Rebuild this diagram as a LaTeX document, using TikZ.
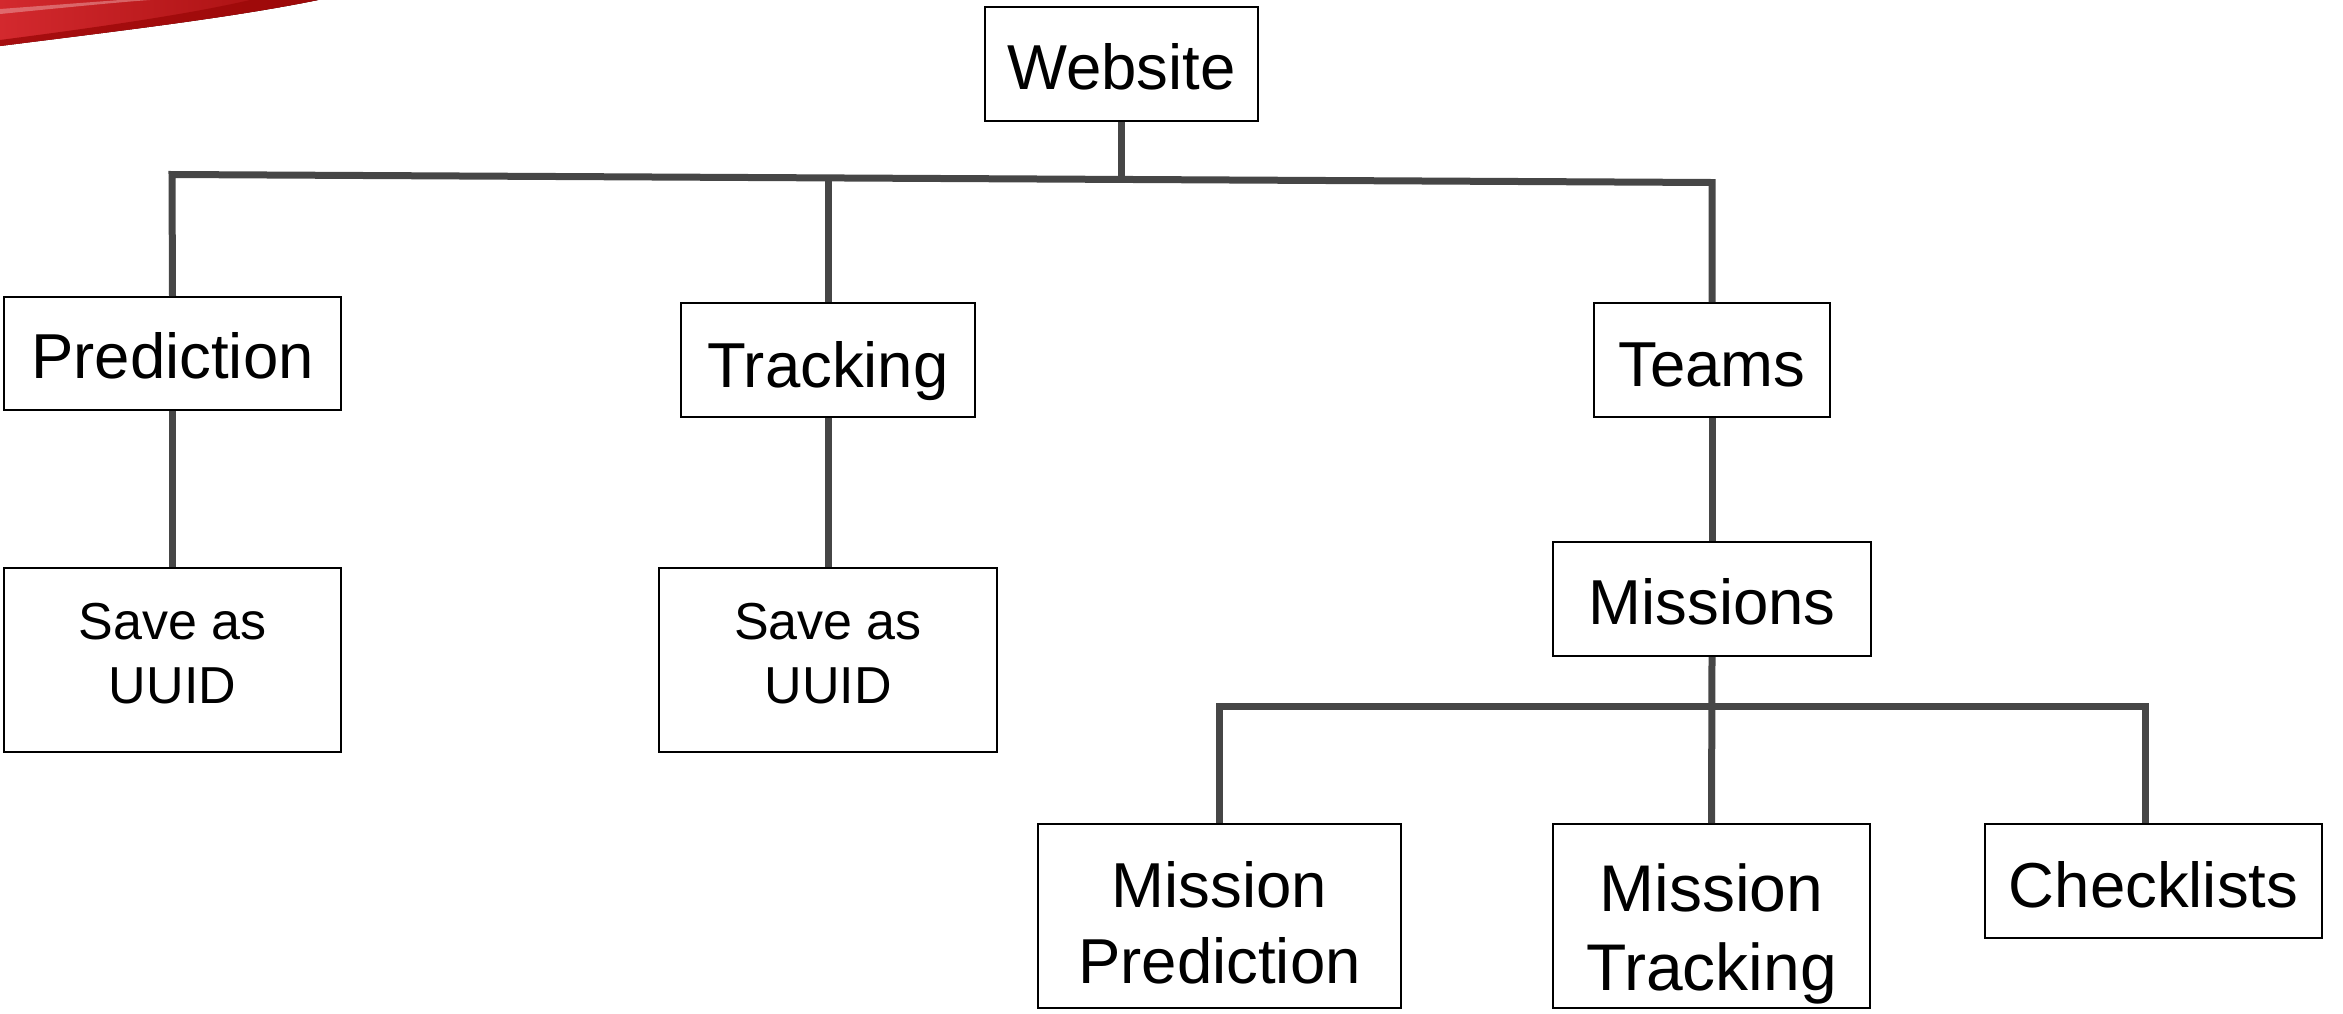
\documentclass[tikz,border=0pt]{standalone}
\usepackage{fontspec}
\setmainfont{Liberation Sans}
\definecolor{linkgray}{HTML}{464646}
\definecolor{swooshred}{HTML}{D3292E}
\definecolor{swooshdark}{HTML}{9C0808}
% two centred lines whose baseline is the first line's baseline
\newcommand\stacklines[3]{\vtop{\baselineskip=#3\relax\lineskiplimit=-10pt
  \halign{\hfil##\hfil\cr #1\cr #2\cr}}}
\begin{document}
\begin{tikzpicture}[
  x=0.5pt, y=-0.5pt,
  box/.style={draw=black, line width=1pt, inner sep=0pt, fill=white,
              font=\fontsize{31.75}{38}\selectfont, text height=25.5pt, text depth=0pt},
  small/.style={font=\fontsize{26}{32}\selectfont},
  big/.style={font=\fontsize{33}{39}\selectfont},
  size/.style 2 args={minimum width=#1*0.5pt, minimum height=#2*0.5pt},
  link/.style={draw=linkgray, line width=3.5pt},
]
\useasboundingbox (0,0) rectangle (2343,1013);

% red swoosh in the top left corner
\fill[left color=swooshred, right color=swooshdark!85!swooshred]
  (0,0) -- (318,0) .. controls (230,18) and (110,32) .. (0,46) -- cycle;
\fill[swooshdark, opacity=0.8]
  (318,0) .. controls (230,18) and (110,32) .. (0,46)
  -- (0,40) .. controls (100,27) and (190,14) .. (250,0) -- cycle;
\fill[white!60!swooshred, opacity=0.5]
  (0,14) .. controls (60,8) and (120,2) .. (150,0) -- (120,0)
  .. controls (80,3) and (40,6) .. (0,9) -- cycle;

% boxes
\node[box, size={273}{114}, text height=25pt] (web) at (1121.5,64) {Website};
\node[box, size={337}{113}, text height=24.5pt] (pred) at (172.5,353.5) {Prediction};
\node[box, small, size={337}{184}, text height=0pt, text depth=21pt] (save1) at (172.5,660)
  {\stacklines{Save as}{UUID}{32pt}};
\node[box, size={294}{114}, text height=27pt] (track) at (828,360) {Tracking};
\node[box, small, size={338}{184}, text height=0pt, text depth=21pt] (save2) at (828,660)
  {\stacklines{Save as}{UUID}{32pt}};
\node[box, size={236}{114}, text height=26.5pt] (teams) at (1712,360) {Teams};
\node[box, size={318}{114}, text height=25pt] (missions) at (1712,599) {Missions};
\node[box, size={363}{184}, text height=0pt, text depth=9pt] (mpred) at (1219.5,916)
  {\stacklines{Mission}{Prediction}{38pt}};
\node[box, big, size={317}{184}, text height=0pt, text depth=5pt] (mtrack) at (1711.5,916)
  {\stacklines{Mission}{Tracking}{39.5pt}};
\node[box, size={337}{114}, text height=26.5pt] (check) at (2153.5,881) {Checklists};

% junction points of the two bus lines
\coordinate (busL) at (172,174.5);
\coordinate (busR) at (1712,182.5);
\coordinate (webJ) at (1121.5,179.4);
\coordinate (trackJ) at (828,177.9);
\coordinate (lowL) at (1219.5,706.5);
\coordinate (lowR) at (2145,706.5);

% connectors
\draw[link] (pred.north) -- (busL) -- (busR) -- (teams.north);
\draw[link] (web.south) -- (webJ);
\draw[link] (track.north) -- (trackJ);
\draw[link] (pred.south) -- (save1.north);
\draw[link] (track.south) -- (save2.north);
\draw[link] (teams.south) -- (missions.north);
\draw[link] (missions.south) -- (mtrack.north);
\draw[link] (mpred.north) -- (lowL) -- (lowR) -- (lowR |- check.north);
\end{tikzpicture}
\end{document}
